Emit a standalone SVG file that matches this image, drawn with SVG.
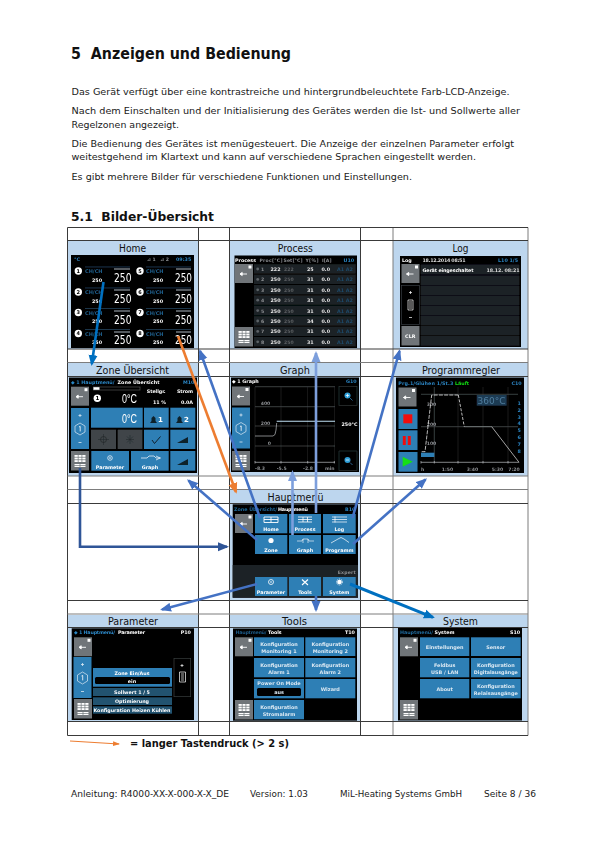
<svg xmlns="http://www.w3.org/2000/svg" width="595" height="842" viewBox="0 0 595 842">
<style>
text{font-family:"DejaVu Sans","Liberation Sans",sans-serif}
.b{font-size:9.4px;fill:#1a1a1a}
.h{font-size:10px;fill:#111;text-anchor:middle}
.w{fill:#fff;font-size:4.8px;font-weight:bold}
.c{fill:#fff;font-size:4.8px;font-weight:bold;text-anchor:middle}
.d{fill:#dbe9f3;font-size:4.9px;font-weight:bold;text-anchor:middle}
.bl{fill:#2c86c4;font-size:4.8px;font-weight:bold}
.g{fill:#8a8d90;font-size:4.6px;font-weight:bold}
.big{fill:#fff;font-size:13px;font-family:"Liberation Sans",sans-serif}
.k{fill:#2f7fb5}
.sc{fill:#000}
.row{fill:#1e2327}
.tb{stroke:#3a3a3a;stroke-width:1;fill:none}
.tg{stroke:#7d7d7d;stroke-width:1;fill:none}
.a{fill:none;stroke-width:2.6}
.gl{stroke:#50565a;stroke-width:.7;fill:none}
.gv{stroke:#26292c;stroke-width:.7;fill:none}
.screen{filter:url(#soft)}
</style>
<defs>
<filter id="soft" x="-2%" y="-2%" width="104%" height="104%"><feGaussianBlur stdDeviation="0.3"/></filter>
<marker id="mb" markerUnits="userSpaceOnUse" markerWidth="11" markerHeight="10" viewBox="0 0 11 10" refX="9" refY="5" orient="auto"><path d="M0 .5L11 5L0 9.500z" fill="#4472c4"/></marker>
<marker id="ml" markerUnits="userSpaceOnUse" markerWidth="11" markerHeight="10" viewBox="0 0 11 10" refX="9" refY="5" orient="auto"><path d="M0 .5L11 5L0 9.500z" fill="#7d9fdc"/></marker>
<marker id="md" markerUnits="userSpaceOnUse" markerWidth="11" markerHeight="10" viewBox="0 0 11 10" refX="9" refY="5" orient="auto"><path d="M0 .5L11 5L0 9.500z" fill="#0070c0"/></marker>
<marker id="mo" markerUnits="userSpaceOnUse" markerWidth="11" markerHeight="10" viewBox="0 0 11 10" refX="9" refY="5" orient="auto"><path d="M0 .5L11 5L0 9.500z" fill="#ed7d31"/></marker>
<marker id="ms" markerUnits="userSpaceOnUse" markerWidth="7" markerHeight="6" viewBox="0 0 7 6" refX="6" refY="3" orient="auto"><path d="M0 .5L7 3L0 5.500z" fill="#ed7d31"/></marker>
<marker id="mn" markerUnits="userSpaceOnUse" markerWidth="11" markerHeight="10" viewBox="0 0 11 10" refX="9" refY="5" orient="auto"><path d="M0 .5L11 5L0 9.500z" fill="#2f5597"/></marker>
<g id="back"><rect width="18" height="19" fill="#6f7579"/><rect x="13.500" y="1.500" width="3" height="3" fill="#fff"/><path d="M5 10h7M5 10l2.200-1.600v3.200z" stroke="#fff" stroke-width=".9" fill="#fff"/></g>
<g id="menu"><rect width="18" height="19.500" fill="#6f7579"/><path d="M3.500 4h11v7h-11zM3.500 13h11v3h-11z" fill="#fff"/><path d="M3 6.300h12M3 8.700h12M7.200 3.500v8M10.900 3.500v8M3 14.500h12M9 12.500v4" stroke="#6f7579" stroke-width=".7"/></g>
<g id="side"><rect width="18" height="41" fill="#2f7fb5"/><path d="M7.500 7.500h3M9 6v3M7.500 34.500h3" stroke="#dbe9f3" stroke-width=".8"/><path d="M9 15l5 3v6l-5 3-5-3v-6z" fill="none" stroke="#dbe9f3" stroke-width=".7"/><path d="M8 19l1.200-.6v5" fill="none" stroke="#fff" stroke-width=".8"/></g>
<g id="scroll"><path d="M6 1.500h3M7.500 0v3M5 8v10h6v-10zM6.500 10h3M6.500 12h3M6.500 14h3M6.500 16h3" stroke="#fff" stroke-width=".7" fill="none"/></g>
<g id="r"><circle r="3.700" fill="#fff"/></g>
</defs>

<g id="page-text">
<text x="71" y="59" font-size="16" font-weight="bold" fill="#111" xml:space="preserve" textLength="220" lengthAdjust="spacingAndGlyphs">5  Anzeigen und Bedienung</text>
<text class="b" x="71.500" y="95" textLength="438" lengthAdjust="spacingAndGlyphs">Das Gerät verfügt über eine kontrastreiche und hintergrundbeleuchtete Farb-LCD-Anzeige.</text>
<text class="b" x="71.500" y="114" textLength="448.500" lengthAdjust="spacingAndGlyphs">Nach dem Einschalten und der Initialisierung des Gerätes werden die Ist- und Sollwerte aller</text>
<text class="b" x="71.500" y="127.500" textLength="107.500" lengthAdjust="spacingAndGlyphs">Regelzonen angezeigt.</text>
<text class="b" x="71.500" y="146.500" textLength="442.500" lengthAdjust="spacingAndGlyphs">Die Bedienung des Gerätes ist menügesteuert. Die Anzeige der einzelnen Parameter erfolgt</text>
<text class="b" x="71.500" y="160" textLength="404.500" lengthAdjust="spacingAndGlyphs">weitestgehend im Klartext und kann auf verschiedene Sprachen eingestellt werden.</text>
<text class="b" x="71.500" y="180" textLength="340.500" lengthAdjust="spacingAndGlyphs">Es gibt mehrere Bilder für verschiedene Funktionen und Einstellungen.</text>
<text x="71" y="220.500" font-size="13" font-weight="bold" fill="#111" xml:space="preserve" textLength="143" lengthAdjust="spacingAndGlyphs">5.1  Bilder-Übersicht</text>
<text x="130" y="747" font-size="10" font-weight="bold" fill="#111" textLength="159" lengthAdjust="spacingAndGlyphs">= langer Tastendruck (&gt; 2 s)</text>
<text class="b" x="71" y="796.700" textLength="158" lengthAdjust="spacingAndGlyphs">Anleitung: R4000-XX-X-000-X-X_DE</text>
<text class="b" x="250" y="796.700" textLength="58" lengthAdjust="spacingAndGlyphs">Version: 1.03</text>
<text class="b" x="340" y="796.700" textLength="122" lengthAdjust="spacingAndGlyphs">MiL-Heating Systems GmbH</text>
<text class="b" x="484" y="796.700" textLength="52" lengthAdjust="spacingAndGlyphs">Seite 8 / 36</text>
</g>

<g id="table" fill="#bdd6ee">
<rect x="68" y="241" width="130" height="108"/><rect x="229.500" y="241" width="131" height="108"/><rect x="393" y="241" width="135" height="108"/>
<rect x="68" y="363" width="130" height="113"/><rect x="229.500" y="363" width="131" height="113"/><rect x="393" y="363" width="135" height="113"/>
<rect x="229.500" y="490" width="131" height="110"/>
<rect x="68" y="615" width="130" height="106"/><rect x="229.500" y="615" width="131" height="106"/><rect x="393" y="615" width="135" height="106"/>
<path class="tb" d="M67.500 227.500V735.500M198.500 227.500V735.500M229.500 227.500V735.500M360.500 227.500V735.500"/>
<path class="tg" d="M393 227.500V735.500M528 227.500V735.500"/>
<path class="tb" d="M67.500 227.500H528M67.500 240.500H528M67.500 376.500H528M67.500 503.500H528M67.500 600.500H528M67.500 627.500H528M67.500 721.500H528M67.500 735.500H528M67.500 349H528"/>
<path class="tg" d="M67.500 362.500H528M67.500 476H528M67.500 489.500H528M67.500 614H528"/>
<text class="h" x="132.500" y="251.500" textLength="27" lengthAdjust="spacingAndGlyphs">Home</text><text class="h" x="295.300" y="251.500" textLength="35" lengthAdjust="spacingAndGlyphs">Process</text><text class="h" x="460.500" y="251.500" textLength="16" lengthAdjust="spacingAndGlyphs">Log</text>
<text class="h" x="132.500" y="373.500" textLength="73" lengthAdjust="spacingAndGlyphs">Zone Übersicht</text><text class="h" x="295" y="373.500" textLength="30" lengthAdjust="spacingAndGlyphs">Graph</text><text class="h" x="461" y="373.500" textLength="78" lengthAdjust="spacingAndGlyphs">Programmregler</text>
<text class="h" x="295.500" y="500.500" textLength="56" lengthAdjust="spacingAndGlyphs">Hauptmenü</text>
<text class="h" x="133" y="624.500" textLength="50" lengthAdjust="spacingAndGlyphs">Parameter</text><text class="h" x="294.500" y="624.500" textLength="25" lengthAdjust="spacingAndGlyphs">Tools</text><text class="h" x="460.500" y="624.500" textLength="35" lengthAdjust="spacingAndGlyphs">System</text>
</g>

<g id="home" class="screen">
<rect class="sc" x="71" y="255" width="123" height="93"/>
<text class="bl" x="74" y="261">°C</text><text class="g" x="147" y="261" textLength="22">⊿1 ⊿2</text><text class="bl" x="176" y="261">09:35</text>
<g fill="#1d3a52"><rect x="85" y="266.500" width="45" height=".9"/><rect x="146" y="266.500" width="45" height=".9"/><rect x="85" y="287.500" width="45" height=".9"/><rect x="146" y="287.500" width="45" height=".9"/><rect x="85" y="308" width="45" height=".9"/><rect x="146" y="308" width="45" height=".9"/><rect x="85" y="329" width="45" height=".9"/><rect x="146" y="329" width="45" height=".9"/></g>
<g fill="#555a5e"><rect x="114" y="268" width="16" height="2"/><rect x="176" y="268" width="15" height="2"/><rect x="114" y="289" width="16" height="2"/><rect x="176" y="289" width="15" height="2"/><rect x="114" y="310" width="16" height="2"/><rect x="176" y="310" width="15" height="2"/><rect x="114" y="331" width="16" height="2"/><rect x="176" y="331" width="15" height="2"/></g>
<use href="#r" x="78.300" y="271"/><use href="#r" x="78.300" y="292"/><use href="#r" x="78.300" y="312.500"/><use href="#r" x="78.300" y="333.500"/>
<use href="#r" x="140" y="271"/><use href="#r" x="140" y="292"/><use href="#r" x="140" y="312.500"/><use href="#r" x="140" y="333.500"/>
<g font-size="5" font-weight="bold" text-anchor="middle"><text x="78.300" y="272.800">1</text><text x="78.300" y="293.800">2</text><text x="78.300" y="314.300">3</text><text x="78.300" y="335.300">4</text><text x="140" y="272.800">5</text><text x="140" y="293.800">6</text><text x="140" y="314.300">7</text><text x="140" y="335.300">8</text></g>
<g font-size="5" font-weight="bold" fill="#1f5f8c"><text x="85" y="273">CH/CH</text><text x="146" y="273">CH/CH</text><text x="85" y="294">CH/CH</text><text x="146" y="294">CH/CH</text><text x="85" y="315">CH/CH</text><text x="146" y="315">CH/CH</text><text x="85" y="336">CH/CH</text><text x="146" y="336">CH/CH</text></g>
<g class="c"><text x="97" y="282">250</text><text x="158" y="282">250</text><text x="97" y="303">250</text><text x="158" y="303">250</text><text x="97" y="323">250</text><text x="158" y="323">250</text><text x="97" y="344">250</text><text x="158" y="344">250</text></g>
<g class="big"><text x="114" y="282" textLength="17.500" lengthAdjust="spacingAndGlyphs">250</text><text x="175" y="282" textLength="17" lengthAdjust="spacingAndGlyphs">250</text><text x="114" y="303" textLength="17.500" lengthAdjust="spacingAndGlyphs">250</text><text x="175" y="303" textLength="17" lengthAdjust="spacingAndGlyphs">250</text><text x="114" y="323.500" textLength="17.500" lengthAdjust="spacingAndGlyphs">250</text><text x="175" y="323.500" textLength="17" lengthAdjust="spacingAndGlyphs">250</text><text x="114" y="344" textLength="17.500" lengthAdjust="spacingAndGlyphs">250</text><text x="175" y="344" textLength="17" lengthAdjust="spacingAndGlyphs">250</text></g>
</g>

<g id="process" class="screen">
<rect class="sc" x="234.500" y="255.500" width="122.500" height="92.500"/>
<text class="w" x="235" y="261.500">Process</text><text class="g" x="259.500" y="261.500" textLength="23">Proc[°C]</text><text class="g" x="283.500" y="261.500" textLength="19">Set[°C]</text><text class="g" x="305.500" y="261.500" textLength="13">Y[%]</text><text class="g" x="322" y="261.500" textLength="9.500">I[A]</text><text class="bl" x="343.500" y="261.500">U10</text>
<use href="#back" x="235" y="264"/><use href="#menu" x="235" y="327"/>
<g class="row"><rect x="254" y="264.200" width="101.700" height="9.400"/><rect x="254" y="274.600" width="101.700" height="9.400"/><rect x="254" y="285" width="101.700" height="9.400"/><rect x="254" y="295.400" width="101.700" height="9.400"/><rect x="254" y="305.800" width="101.700" height="9.400"/><rect x="254" y="316.200" width="101.700" height="9.400"/><rect x="254" y="326.600" width="101.700" height="9.400"/><rect x="254" y="337" width="101.700" height="9.400"/></g>
<g fill="#5d6367"><circle cx="257.700" cy="269" r="1.400"/><circle cx="257.700" cy="279.400" r="1.400"/><circle cx="257.700" cy="289.800" r="1.400"/><circle cx="257.700" cy="300.200" r="1.400"/><circle cx="257.700" cy="310.600" r="1.400"/><circle cx="257.700" cy="321" r="1.400"/><circle cx="257.700" cy="331.400" r="1.400"/><circle cx="257.700" cy="341.800" r="1.400"/></g>
<g class="g"><text x="261" y="271">1</text><text x="261" y="281.400">2</text><text x="261" y="291.800">3</text><text x="261" y="302.200">4</text><text x="261" y="312.600">5</text><text x="261" y="323">6</text><text x="261" y="333.400">7</text><text x="261" y="343.800">8</text></g>
<g class="g" style="fill:#5b5f62"><text x="284" y="271">222</text><text x="284" y="281.400">250</text><text x="284" y="291.800">250</text><text x="284" y="302.200">250</text><text x="284" y="312.600">250</text><text x="284" y="323">250</text><text x="284" y="333.400">250</text><text x="284" y="343.800">250</text></g>
<g class="w" style="fill:#e6e6e6"><text x="270.500" y="271">222</text><text x="270.500" y="281.400">250</text><text x="270.500" y="291.800">250</text><text x="270.500" y="302.200">250</text><text x="270.500" y="312.600">250</text><text x="270.500" y="323">250</text><text x="270.500" y="333.400">250</text><text x="270.500" y="343.800">250</text>
<text x="307" y="271">25</text><text x="307" y="281.400">31</text><text x="307" y="291.800">31</text><text x="307" y="302.200">31</text><text x="307" y="312.600">31</text><text x="307" y="323">34</text><text x="307" y="333.400">31</text><text x="307" y="343.800">31</text>
<text x="321.500" y="271">0.0</text><text x="321.500" y="281.400">0.0</text><text x="321.500" y="291.800">0.0</text><text x="321.500" y="302.200">0.0</text><text x="321.500" y="312.600">0.0</text><text x="321.500" y="323">0.0</text><text x="321.500" y="333.400">0.0</text><text x="321.500" y="343.800">0.0</text></g>
<g class="bl" style="fill:#1d4a6b"><text x="337" y="271">A1 A2</text><text x="337" y="281.400">A1 A2</text><text x="337" y="291.800">A1 A2</text><text x="337" y="302.200">A1 A2</text><text x="337" y="312.600">A1 A2</text><text x="337" y="323">A1 A2</text><text x="337" y="333.400">A1 A2</text><text x="337" y="343.800">A1 A2</text></g>
</g>

<g id="log" class="screen">
<rect class="sc" x="400" y="256" width="121" height="91"/>
<text class="w" x="402" y="261.500">Log</text><text class="w" x="422.500" y="261.500" textLength="43" style="fill:#ddd">18.12.2014 08:51</text><text class="bl" x="498" y="261.500" textLength="20">L10 1/5</text>
<use href="#back" x="401.500" y="264"/>
<rect x="401.500" y="285.500" width="18" height="39" fill="none" stroke="#3a3f42" stroke-width=".7"/>
<path d="M409 292.500h3M410.500 291v3M409 317.500h3M408 300v10h5v-10zM409 302h3M409 304h3M409 306h3M409 308h3" stroke="#fff" stroke-width=".7" fill="none"/>
<rect x="401.500" y="326" width="18" height="19.500" fill="#6f7579"/><text class="w" x="405" y="337.500" textLength="10.500">CLR</text>
<g class="row"><rect x="420.700" y="264.500" width="98.600" height="10"/><rect x="420.700" y="275.500" width="98.600" height="9.500"/><rect x="420.700" y="285.500" width="98.600" height="9.500"/><rect x="420.700" y="295.500" width="98.600" height="9.500"/><rect x="420.700" y="305.500" width="98.600" height="9.500"/><rect x="420.700" y="315.500" width="98.600" height="9.500"/><rect x="420.700" y="325.700" width="98.600" height="9.500"/><rect x="420.700" y="335.700" width="98.600" height="10"/></g>
<text class="w" x="422.500" y="271.500" textLength="51">Gerät eingeschaltet</text><text class="w" x="486.500" y="271.500" textLength="33" style="fill:#ddd">18.12. 08:21</text>
</g>

<g id="zone" class="screen">
<rect class="sc" x="69" y="377.500" width="128" height="95.500"/>
<text class="bl" x="71" y="383.500" textLength="43.500">◆ 1 Hauptmenü/</text><text class="w" x="117.500" y="383.500" textLength="42">Zone Übersicht</text><text class="bl" x="183" y="383.500">M10</text>
<use href="#back" x="71" y="386.700"/>
<rect x="93.300" y="387" width="46.700" height="3" fill="none" stroke="#777" stroke-width=".5"/><rect x="93.500" y="387.200" width="6" height="2.600" fill="#fff"/>
<use href="#r" x="97.300" y="398.300"/><text x="97.300" y="400.200" font-size="5.500" font-weight="bold" text-anchor="middle">1</text>
<text class="big" x="122" y="403" textLength="15" lengthAdjust="spacingAndGlyphs">0°C</text>
<text class="w" x="146.700" y="393" textLength="19">Stellgr.</text><text class="w" x="177" y="393" textLength="16">Strom</text><text class="w" x="153" y="404" textLength="13">11 %</text><text class="w" x="181" y="404" textLength="12">0.0A</text>
<use href="#side" x="71" y="408"/>
<g class="k"><rect x="91" y="407.700" width="51.700" height="20"/><rect x="144" y="407.700" width="24.700" height="20"/><rect x="170.300" y="407.700" width="25" height="20"/><rect x="144" y="429.700" width="24.700" height="19.300"/><rect x="170.300" y="429.700" width="25" height="19.300"/><rect x="91.300" y="451" width="37.700" height="19.700"/><rect x="131" y="451" width="37.700" height="19.700"/><rect x="170.300" y="451" width="25" height="19.700"/></g>
<rect x="91" y="429.700" width="25" height="19.300" fill="#3f4549"/><rect x="117.700" y="429.700" width="24.700" height="19.300" fill="#3f4549"/>
<text class="big" x="122" y="422.700" textLength="15" lengthAdjust="spacingAndGlyphs">0°C</text>
<path d="M150 423l1.500-2v-3l2-2 2 2v3l1.500 2zM176 423l1.500-2v-3l2-2 2 2v3l1.500 2z" fill="#10202c"/>
<text class="w" x="158" y="422" style="font-size:7px">1</text><text class="w" x="184" y="422" style="font-size:7px">2</text>
<circle cx="103.500" cy="439.500" r="3" fill="none" stroke="#23282b" stroke-width=".8"/><path d="M103.500 434v11M98 439.500h11M126 439.500h8M130 435v9M127 436.500l6 6M133 436.500l-6 6" stroke="#23282b" stroke-width=".6"/>
<path d="M152 440l2.500 3.500 6-7" fill="none" stroke="#10202c" stroke-width="1"/>
<path d="M177 443h11v-6zM177 465h11v-6z" fill="#10202c"/>
<circle cx="110" cy="458" r="2.300" fill="none" stroke="#fff" stroke-width=".7"/><circle cx="110" cy="458" r=".8" fill="#fff"/>
<path d="M141 458h6l2-2h5l2 2h5M156 456l4 2-4 2" fill="none" stroke="#fff" stroke-width=".7"/>
<text class="c" x="110" y="469">Parameter</text><text class="c" x="150" y="469">Graph</text>
<use href="#menu" x="71" y="451"/>
</g>

<g id="graph" class="screen">
<rect class="sc" x="231" y="377.500" width="128" height="94.500"/>
<text class="w" x="232" y="383">◆ 1 Graph</text><text class="bl" x="346" y="383">G10</text>
<use href="#back" x="232" y="386.500"/><use href="#side" x="232" y="407.500"/><use href="#menu" x="232" y="451"/>
<path class="gv" d="M255 386.700V462M281 386.700V462M307.700 386.700V462M334.300 386.700V462"/>
<path class="gl" d="M255 386.700H335M255 406.700H335M255 426H335M255 446H335"/>
<text class="g" x="260.700" y="405">400</text><text class="g" x="260.700" y="425">200</text><text class="g" x="267.700" y="445">0</text>
<path d="M255 436H273Q275.500 436 276 430L276.700 423" fill="none" stroke="#b8bcbf" stroke-width=".7"/>
<path d="M276.700 421.300H335" stroke="#bfe0f3" stroke-width="1.100"/>
<text class="w" x="341.500" y="425.500" textLength="16">250°C</text>
<rect x="339" y="386.500" width="18" height="19" fill="none" stroke="#3a3f42" stroke-width=".6"/><rect x="339" y="451" width="18" height="19.500" fill="none" stroke="#3a3f42" stroke-width=".6"/>
<circle cx="347.500" cy="395.500" r="3" fill="#2f9ed8"/><circle cx="347.500" cy="460" r="3" fill="#2f9ed8"/>
<path d="M350 398l2.500 2.500M350 462.500l2.500 2.500" stroke="#2f7fb5" stroke-width=".8"/><path d="M345.800 395.500h3.400M347.500 393.800v3.400M345.800 460h3.400" stroke="#fff" stroke-width=".7"/>
<path d="M255 462.300H335M255 461v2.500M281 461v2.500M307.700 461v2.500M334.300 461v2.500" fill="none" stroke="#b8bcbf" stroke-width=".7"/>
<text class="g" x="255" y="470">-8.3</text><text class="g" x="276.700" y="470">-5.5</text><text class="g" x="303" y="470">-2.8</text><text class="g" x="325" y="470">min</text>
</g>

<g id="programm" class="screen">
<rect class="sc" x="396" y="377.500" width="128" height="95.500"/>
<text class="bl" x="398.300" y="385" textLength="55">Prg.1/Glühen 1/St.3</text><text x="455" y="385" font-size="4.800" font-weight="bold" fill="#12e012">Läuft</text><text class="bl" x="511.500" y="385">C10</text>
<use href="#back" x="398.500" y="387.500"/>
<g class="k"><rect x="398.500" y="409" width="19" height="20"/><rect x="398.500" y="430.300" width="19" height="19.700"/><rect x="398.500" y="452" width="19" height="19.700"/></g>
<rect x="403.300" y="414.300" width="9" height="9" fill="#f01010"/><rect x="402.800" y="436" width="3" height="9" fill="#f01010"/><rect x="407.800" y="436" width="3" height="9" fill="#f01010"/>
<path d="M402.700 456.700L412.700 461.700L402.700 466.700z" fill="#12e012"/>
<path class="gv" d="M458 387V462M483 387V462M508 387V462"/>
<path class="gl" d="M421 394.300H518M421 426.700H518M434.300 387V462"/>
<rect x="476.700" y="395" width="30" height="10.700" fill="#1d3a52"/><text x="477.500" y="404" font-size="9" fill="#4f7d9e" textLength="28">360°C</text>
<text class="g" x="426.700" y="405.500">300</text><text class="g" x="426.700" y="425.700">200</text><text class="g" x="426.700" y="445">100</text>
<path d="M421.700 451.700H425L431.700 395H458.300" fill="none" stroke="#e6e6e6" stroke-width=".8" stroke-dasharray="4 1.200"/><path d="M458.300 395L464.300 426.700" fill="none" stroke="#e6e6e6" stroke-width=".8" stroke-dasharray="3 1.500"/><path d="M464.300 426.700H491.700" stroke="#8d9194" stroke-width=".7"/><path d="M491.700 426.700L519 462.300" stroke="#e6e6e6" stroke-width=".7"/>
<rect x="421" y="452.700" width="13.300" height="4.300" fill="#2f7fb5"/>
<path d="M421 462.300H519M421 461v2.500M434.300 461v2.500M458 461v2.500M483 461v2.500M508 461v2.500" fill="none" stroke="#b8bcbf" stroke-width=".7"/>
<g class="bl"><text x="517.500" y="405">1</text><text x="517.500" y="411.800">2</text><text x="517.500" y="418.600">3</text><text x="517.500" y="425.400">4</text><text x="517.500" y="432.200">5</text><text x="517.500" y="439">6</text><text x="517.500" y="445.800">7</text><text x="517.500" y="452.600">8</text></g>
<text class="g" x="421" y="471">h</text><text class="g" x="441.700" y="471">1:50</text><text class="g" x="466.700" y="471">3:40</text><text class="g" x="491.700" y="471">5:30</text><text class="g" x="508.300" y="471">7:20</text>
</g>

<g id="hauptmenu" class="screen">
<rect class="sc" x="232.700" y="504.300" width="125.300" height="93.400"/>
<rect x="232.700" y="565" width="125.300" height="32.700" fill="#1f2326"/>
<text class="bl" x="234" y="511" textLength="43" style="fill:#1f6a9c">Zone Übersicht/</text><text class="w" x="278" y="511" textLength="30">Hauptmenü</text><text class="bl" x="345" y="511">B10</text>
<use href="#back" x="235" y="514"/>
<text class="g" x="337.700" y="574.300" textLength="18">Expert</text>
<g class="k"><rect x="255" y="514" width="32.300" height="19.300"/><rect x="289" y="514" width="32" height="19.300"/><rect x="323" y="514" width="32.700" height="19.300"/><rect x="255" y="535" width="32.300" height="19"/><rect x="289" y="535" width="32" height="19"/><rect x="323" y="535" width="32.700" height="19"/><rect x="255" y="577" width="32.300" height="19"/><rect x="289" y="577" width="32" height="19"/><rect x="323" y="577" width="32.700" height="19"/></g>
<path d="M264 517h14v5.500h-14zM264 519.500h14M271 517v5.500" fill="none" stroke="#fff" stroke-width=".9"/>
<path d="M298 517h14M298 519.500h14M298 522h14M303 517v5M307.500 517v5" fill="none" stroke="#fff" stroke-width=".8"/>
<path d="M332 517h15M332 519.500h15M332 522h15M335 516.500v6" fill="none" stroke="#fff" stroke-width=".7"/>
<circle cx="271" cy="540.500" r="2.600" fill="#fff"/>
<path d="M297 541h5l1-2h5l1 2h5M303 539v4M308 539v4" fill="none" stroke="#fff" stroke-width=".6"/>
<path d="M331 543l7-4 3-1.500 3 1.500 5 3.500" fill="none" stroke="#fff" stroke-width=".7"/>
<circle cx="271" cy="582" r="2.500" fill="none" stroke="#fff" stroke-width=".8"/><circle cx="271" cy="582" r=".8" fill="#fff"/>
<path d="M302 579.500l6 5.500M308 579.500l-6 5.500" stroke="#fff" stroke-width="1.100"/>
<circle cx="339.500" cy="582" r="2.300" fill="#fff"/><circle cx="339.500" cy="582" r="3" fill="none" stroke="#fff" stroke-width=".8" stroke-dasharray="1 .9"/>
<text class="c" x="271" y="531">Home</text><text class="c" x="305" y="531">Process</text><text class="c" x="339.300" y="531">Log</text>
<text class="c" x="271" y="551.700">Zone</text><text class="c" x="305" y="551.700">Graph</text><text class="c" x="339.300" y="551.700">Programm</text>
<text class="c" x="271" y="593.700">Parameter</text><text class="c" x="305" y="593.700">Tools</text><text class="c" x="339.300" y="593.700">System</text>
</g>

<g id="parameter" class="screen">
<rect class="sc" x="71.700" y="628.300" width="122.300" height="91.700"/>
<text class="bl" x="74" y="634.300" textLength="41">◆ 1 Hauptmenü/</text><text class="w" x="118" y="634.300" textLength="27">Parameter</text><text class="w" x="180.700" y="634.300">P10</text>
<use href="#back" x="74" y="637.300"/><use href="#side" x="73.500" y="657"/><use href="#menu" x="74" y="699"/>
<rect x="93" y="668" width="79" height="18.700" fill="#2f7fb5"/><rect x="95" y="677" width="75" height="7" rx="1.500" fill="#000"/>
<text class="c" x="132" y="674.500">Zone Ein/Aus</text><text class="c" x="132" y="682.500">ein</text>
<g fill="#215270"><rect x="93" y="688" width="79" height="8"/><rect x="93" y="697.300" width="79" height="7.700"/><rect x="93" y="706.300" width="79" height="7.400"/></g>
<text class="c" x="132" y="694">Sollwert 1 / 5</text><text class="c" x="132" y="703.300">Optimierung</text><text class="c" x="132" y="712" textLength="77" lengthAdjust="spacingAndGlyphs">Konfiguration Heizen Kühlen</text>
<rect x="174" y="658.300" width="16.700" height="38.400" fill="none" stroke="#3a3f42" stroke-width=".7"/>
<use href="#scroll" x="174.500" y="664"/>
</g>

<g id="tools" class="screen">
<rect class="sc" x="233" y="628.500" width="124" height="92.200"/>
<text class="bl" x="235.500" y="634.300" textLength="31" style="fill:#1d5a85">Hauptmenü/</text><text class="w" x="268" y="634.300">Tools</text><text class="w" x="345" y="634.300">T10</text>
<use href="#back" x="235" y="637.300"/><use href="#menu" x="235" y="700"/>
<g class="k"><rect x="254" y="637.300" width="50" height="18.700"/><rect x="305.300" y="637.300" width="50" height="18.700"/><rect x="254" y="658" width="50" height="19.300"/><rect x="305.300" y="658" width="50" height="19.300"/><rect x="254" y="679" width="50" height="19.300"/><rect x="305.300" y="679" width="50" height="19.300"/><rect x="254" y="700" width="50" height="19.300"/></g>
<rect x="257" y="688" width="44" height="8" rx="1.500" fill="#000"/>
<text class="d" x="279" y="645.500">Konfiguration</text><text class="d" x="279" y="652.500">Monitoring 1</text><text class="d" x="330.300" y="645.500">Konfiguration</text><text class="d" x="330.300" y="652.500">Monitoring 2</text>
<text class="d" x="279" y="666.500">Konfiguration</text><text class="d" x="279" y="673.500">Alarm 1</text><text class="d" x="330.300" y="666.500">Konfiguration</text><text class="d" x="330.300" y="673.500">Alarm 2</text>
<text class="d" x="279" y="684.800">Power On Mode</text><text class="d" x="279" y="694">aus</text><text class="d" x="330.300" y="690.500">Wizard</text>
<text class="d" x="279" y="708.500">Konfiguration</text><text class="d" x="279" y="715.500">Stromalarm</text>
</g>

<g id="system" class="screen">
<rect class="sc" x="398" y="628" width="124" height="92.500"/>
<text class="bl" x="400" y="634.300" textLength="33" style="fill:#1f6a9c">Hauptmenü/</text><text class="w" x="434.500" y="634.300">System</text><text class="w" x="510" y="634.300">S10</text>
<use href="#back" x="400" y="637.300"/><use href="#menu" x="400" y="700"/>
<g class="k"><rect x="420" y="637.300" width="49.300" height="18.700"/><rect x="471" y="637.300" width="49.700" height="18.700"/><rect x="420" y="658" width="49.300" height="19.300"/><rect x="471" y="658" width="49.700" height="19.300"/><rect x="420" y="679" width="49.300" height="19.300"/><rect x="471" y="679" width="49.700" height="19.300"/></g>
<text class="d" x="444.700" y="649">Einstellungen</text><text class="d" x="495.800" y="649">Sensor</text>
<text class="d" x="444.700" y="666.500">Feldbus</text><text class="d" x="444.700" y="673.500">USB / LAN</text><text class="d" x="495.800" y="666.500">Konfiguration</text><text class="d" x="495.800" y="673.500" textLength="44" lengthAdjust="spacingAndGlyphs">Digitalausgänge</text>
<text class="d" x="444.700" y="690.500">About</text><text class="d" x="495.800" y="687.500">Konfiguration</text><text class="d" x="495.800" y="694.500" textLength="44" lengthAdjust="spacingAndGlyphs">Relaisausgänge</text>
</g>

<g id="connectors">
<path class="a" stroke="#0070c0" d="M103.500 282L91.800 364" marker-end="url(#md)"/>
<path class="a" stroke="#ed7d31" d="M178 336L236 492" marker-end="url(#mo)"/>
<path class="a" stroke="#4472c4" d="M260 518L200 351" marker-end="url(#mb)"/>
<path class="a" stroke="#4472c4" d="M257 540L188.500 480.500" marker-end="url(#mb)"/>
<path class="a" stroke="#7d9fdc" d="M292.500 535V472" marker-end="url(#ml)"/>
<path class="a" stroke="#7d9fdc" d="M316 513V353" marker-end="url(#ml)"/>
<path class="a" stroke="#4472c4" d="M352.500 518L399.500 351" marker-end="url(#mb)"/>
<path class="a" stroke="#4472c4" d="M353 544L425.500 479.500" marker-end="url(#mb)"/>
<path class="a" stroke="#2f5597" d="M80 468V546.700H227" marker-end="url(#mn)"/>
<path class="a" stroke="#4472c4" d="M257 584L162 609.500" marker-end="url(#mb)"/>
<path class="a" stroke="#4472c4" d="M316 596V610" marker-end="url(#mb)"/>
<path class="a" stroke="#0070c0" style="stroke-width:3" d="M350 584L433 617.300" marker-end="url(#md)"/>
<path class="a" stroke="#ed7d31" style="stroke-width:1.200" d="M70 741L119 744" marker-end="url(#ms)"/>
</g>
</svg>
